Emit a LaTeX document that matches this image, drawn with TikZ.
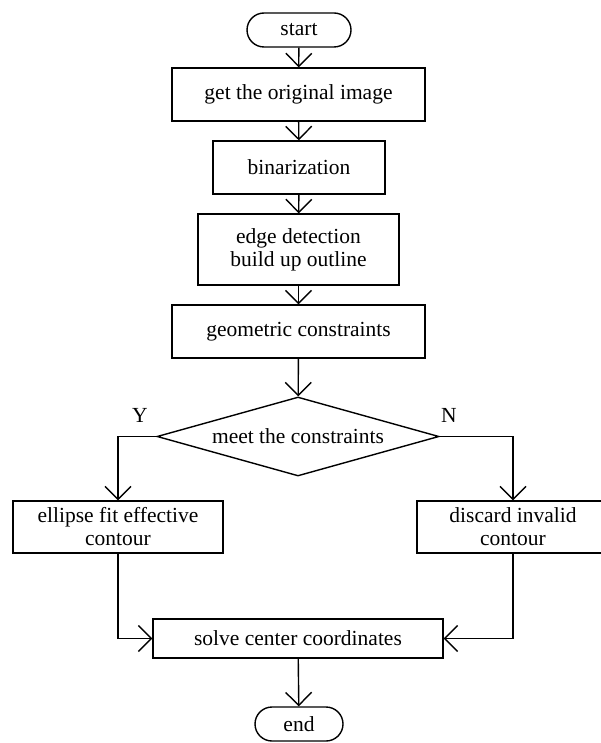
\documentclass[tikz,border=0pt]{standalone}
\usepackage{fontspec}
\setmainfont{Liberation Serif}
\usepackage{tikz}
\usetikzlibrary{arrows.meta,shapes.geometric,shapes.misc,positioning}

\begin{document}
\begin{tikzpicture}[x=1pt,y=-1pt,line width=1.4pt,
    >={Straight Barb[length=13pt,width=26pt]},
    every node/.style={font=\fontsize{21.5}{23}\selectfont},
    box/.style={draw,rectangle,align=center,inner sep=0pt},
    term/.style={draw,rounded rectangle,inner sep=0pt,minimum height=34pt},
    decision/.style={draw,diamond,inner sep=0pt,aspect=3.5}]
  \useasboundingbox (0,0) rectangle (600,743);

  % main column
  \node[term,minimum width=104pt] (start) at (299,30) {start};
  \node[box,minimum width=253pt,minimum height=53pt] (get) at (298.5,94.5) {get the original image};
  \node[box,minimum width=172pt,minimum height=53pt] (bin) at (299,167.5) {binarization};
  \node[box,minimum width=201pt,minimum height=71pt] (edge) at (298.5,249.5) {edge detection\\build up outline};
  \node[box,minimum width=253pt,minimum height=53pt] (geo) at (298.5,331.5) {geometric constraints};
  \node[decision,minimum width=282pt,minimum height=79pt] (meet) at (298,436.5) {meet the constraints};

  % branches
  \node[box,minimum width=210pt,minimum height=52pt] (ell) at (118,527) {ellipse fit effective\\contour};
  \node[box,minimum width=192pt,minimum height=52pt] (dis) at (513,527) {discard invalid\\contour};
  \node (yes) at (140,415) {Y};
  \node (no) at (449,415) {N};

  \node[box,minimum width=290pt,minimum height=39pt] (solve) at (298,638.5) {solve center coordinates};
  \node[term,minimum width=88pt] (end) at (299,724) {end};

  \draw[->] (start) -- (get);
  \draw[->] (get) -- (bin);
  \draw[->] (bin) -- (edge);
  \draw[->] (edge) -- (geo);
  \draw[->] (geo) -- (meet);
  \draw[->] (meet.west) -| (ell.north);
  \draw[->] (meet.east) -| (dis.north);
  \draw[->] (ell.south) |- (solve.west);
  \draw[->] (dis.south) |- (solve.east);
  \draw[->] (solve) -- (end);
\end{tikzpicture}
\end{document}
